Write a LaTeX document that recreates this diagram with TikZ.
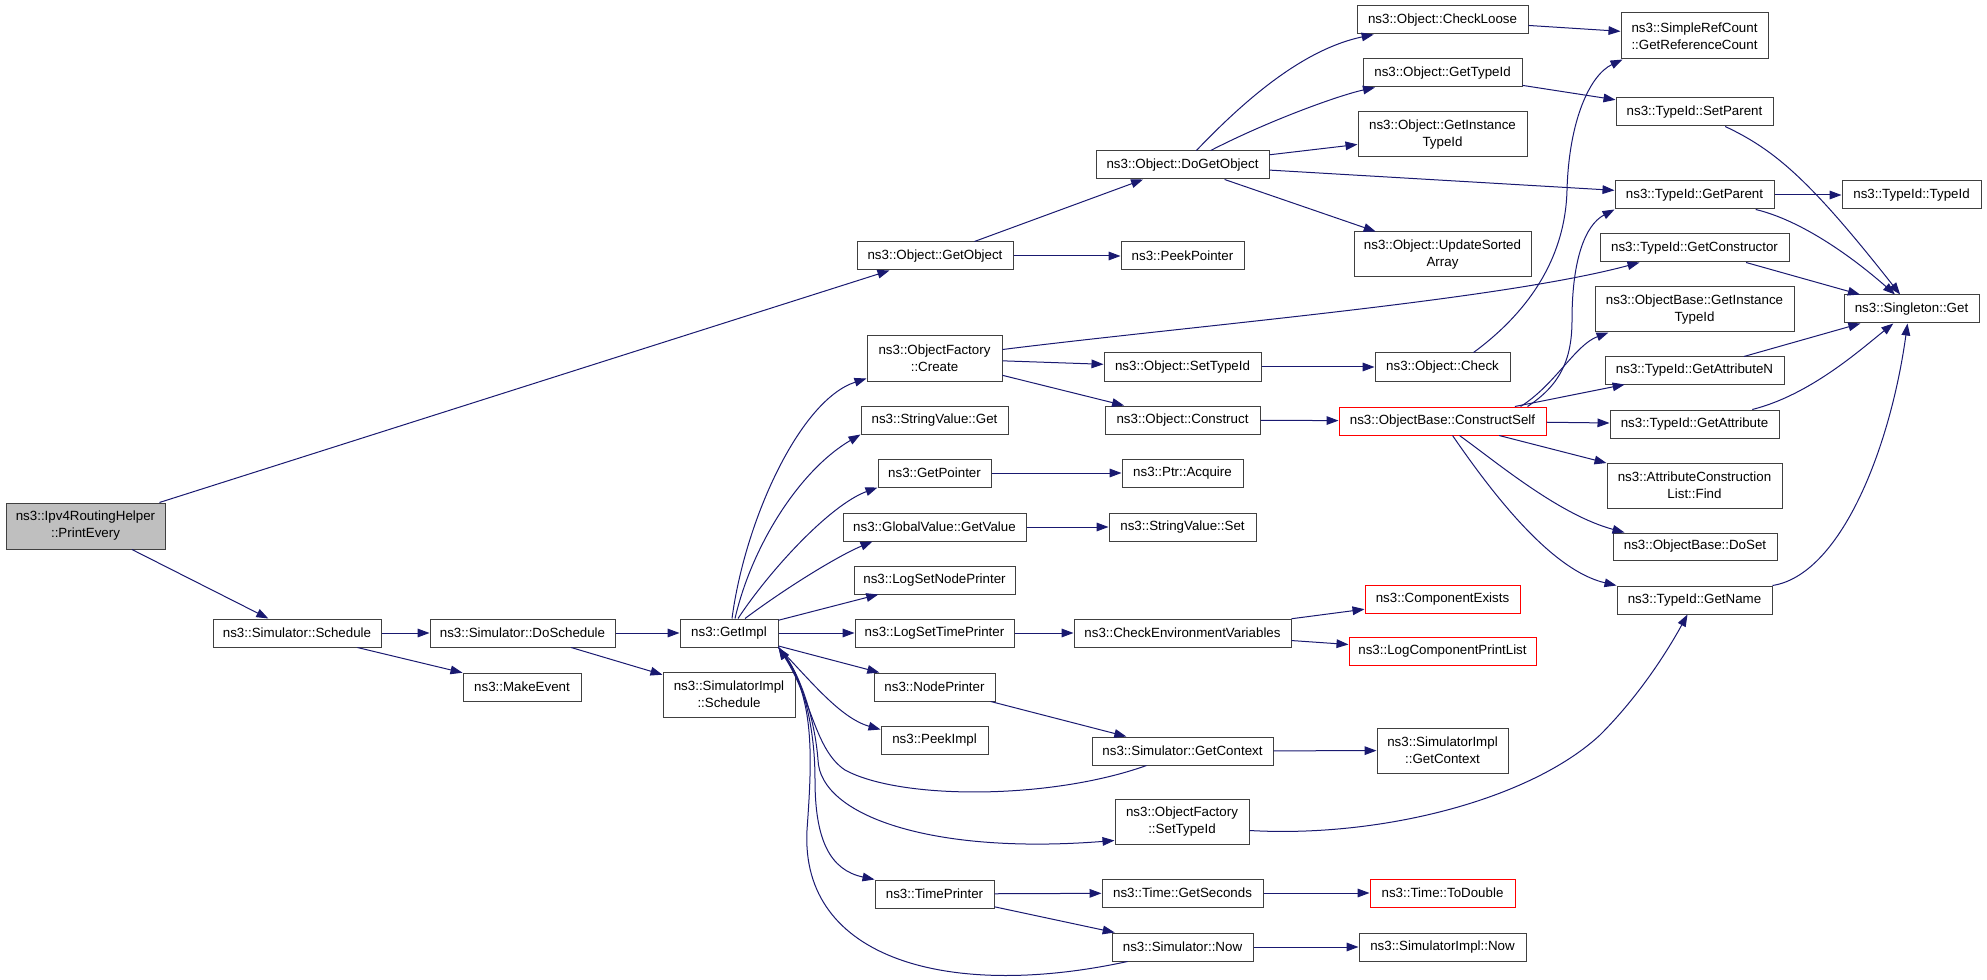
\documentclass[tikz,border=0pt]{standalone}
\usepackage{fontspec}
\setmainfont{Liberation Sans}
\usetikzlibrary{arrows.meta,calc}
\definecolor{edgeblue}{HTML}{191970}
\definecolor{boxgrey}{HTML}{404040}
\definecolor{rootfill}{HTML}{BFBFBF}
\definecolor{redbox}{HTML}{FF0000}
\tikzset{
  fn/.style={draw=boxgrey, line width=0.75pt, fill=white, inner sep=0pt, align=center,
    font=\fontsize{10}{12.75}\selectfont},
  rootnode/.style={fill=rootfill},
  rednode/.style={draw=redbox},
  edge/.style={draw=edgeblue, line width=0.75pt, -{Triangle[length=9pt,width=6.5pt]}},
}
\newcommand\fnode[7][]{\node[fn,#1,minimum width={(#5-#3)*0.75pt},minimum height={(#6-#4)*0.75pt}] (#2) at ({(#3+#5)/2},{(#4+#6)/2}) {#7};}
\begin{document}
\begin{tikzpicture}[x=0.75pt,y=-0.75pt]
\useasboundingbox (0,0) rectangle (1987,980);
% nodes
\fnode[rootnode]{pe}{6}{503}{165}{549}{ns3::Ipv4RoutingHelper\\::PrintEvery}
\fnode{sched}{213}{619}{381}{647}{ns3::Simulator::Schedule}
\fnode{dosched}{430}{619}{615}{647}{ns3::Simulator::DoSchedule}
\fnode{mkev}{463}{673}{581}{701}{ns3::MakeEvent}
\fnode{sisched}{663}{672}{795}{717}{ns3::SimulatorImpl\\::Schedule}
\fnode{getimpl}{680}{619}{778}{647}{ns3::GetImpl}
\fnode{getobj}{857}{242}{1013}{270}{ns3::Object::GetObject}
\fnode{peekptr}{1121}{242}{1244}{270}{ns3::PeekPointer}
\fnode{dogo}{1096}{151}{1269}{179}{ns3::Object::DoGetObject}
\fnode{chkloose}{1357}{6}{1528}{34}{ns3::Object::CheckLoose}
\fnode{ogettid}{1363}{59}{1522}{87}{ns3::Object::GetTypeId}
\fnode{ogetinst}{1358}{112}{1527}{157}{ns3::Object::GetInstance\\TypeId}
\fnode{upd}{1354}{232}{1531}{277}{ns3::Object::UpdateSorted\\Array}
\fnode{refcnt}{1621}{13}{1768}{59}{ns3::SimpleRefCount\\::GetReferenceCount}
\fnode{setpar}{1616}{98}{1773}{126}{ns3::TypeId::SetParent}
\fnode{getpar}{1615}{181}{1774}{209}{ns3::TypeId::GetParent}
\fnode{tidtid}{1842}{181}{1981}{209}{ns3::TypeId::TypeId}
\fnode{getctor}{1600}{234}{1789}{262}{ns3::TypeId::GetConstructor}
\fnode{obinst}{1595}{287}{1794}{332}{ns3::ObjectBase::GetInstance\\TypeId}
\fnode{single}{1844}{295}{1979}{323}{ns3::Singleton::Get}
\fnode{getattrn}{1605}{357}{1784}{384}{ns3::TypeId::GetAttributeN}
\fnode{getattr}{1610}{410}{1779}{438}{ns3::TypeId::GetAttribute}
\fnode{acfind}{1607}{463}{1782}{508}{ns3::AttributeConstruction\\List::Find}
\fnode{doset}{1613}{533}{1777}{560}{ns3::ObjectBase::DoSet}
\fnode{getname}{1617}{586}{1772}{614}{ns3::TypeId::GetName}
\fnode{create}{867}{336}{1002}{381}{ns3::ObjectFactory\\::Create}
\fnode{svget}{861}{406}{1008}{434}{ns3::StringValue::Get}
\fnode{getptr}{878}{459}{991}{487}{ns3::GetPointer}
\fnode{gvget}{843}{513}{1026}{541}{ns3::GlobalValue::GetValue}
\fnode{lsnp}{854}{566}{1015}{594}{ns3::LogSetNodePrinter}
\fnode{lstp}{855}{619}{1014}{647}{ns3::LogSetTimePrinter}
\fnode{nodepr}{874}{673}{995}{701}{ns3::NodePrinter}
\fnode{peekimpl}{881}{726}{988}{754}{ns3::PeekImpl}
\fnode{timepr}{875}{880}{994}{908}{ns3::TimePrinter}
\fnode{osettid}{1104}{353}{1261}{381}{ns3::Object::SetTypeId}
\fnode{check}{1375}{353}{1510}{381}{ns3::Object::Check}
\fnode{construct}{1105}{406}{1260}{434}{ns3::Object::Construct}
\fnode[rednode]{cself}{1339}{407}{1546}{435}{ns3::ObjectBase::ConstructSelf}
\fnode{acquire}{1122}{459}{1243}{487}{ns3::Ptr::Acquire}
\fnode{svset}{1109}{513}{1256}{541}{ns3::StringValue::Set}
\fnode{chkenv}{1074}{619}{1291}{647}{ns3::CheckEnvironmentVariables}
\fnode[rednode]{compex}{1365}{585}{1520}{613}{ns3::ComponentExists}
\fnode[rednode]{lcpl}{1349}{637}{1536}{665}{ns3::LogComponentPrintList}
\fnode{sgctx}{1092}{737}{1273}{765}{ns3::Simulator::GetContext}
\fnode{sigctx}{1377}{728}{1508}{773}{ns3::SimulatorImpl\\::GetContext}
\fnode{ofsettid}{1115}{799}{1249}{844}{ns3::ObjectFactory\\::SetTypeId}
\fnode{getsec}{1102}{879}{1263}{907}{ns3::Time::GetSeconds}
\fnode[rednode]{todbl}{1370}{879}{1515}{907}{ns3::Time::ToDouble}
\fnode{snow}{1112}{933}{1253}{961}{ns3::Simulator::Now}
\fnode{sinow}{1359}{933}{1526}{961}{ns3::SimulatorImpl::Now}
% edges
\draw[edge] (pe) -- (getobj);
\draw[edge] (pe) -- (sched);
\draw[edge] (sched) -- (dosched);
\draw[edge] (sched) -- (mkev);
\draw[edge] (dosched) -- (getimpl);
\draw[edge] (dosched) -- (sisched);
\draw[edge] (getobj) -- (dogo);
\draw[edge] (getobj) -- (peekptr);
\draw[edge] (dogo) .. controls (1240,105) and (1300,50) .. (chkloose);
\draw[edge] (dogo) .. controls (1270,120) and (1340,95) .. (ogettid);
\draw[edge] (dogo) -- (ogetinst);
\draw[edge] (dogo) -- (getpar);
\draw[edge] (dogo) -- (upd);
\draw[edge] (chkloose) -- (refcnt);
\draw[edge] (ogettid) -- (setpar);
\draw[edge] (setpar) .. controls (1775,150) and (1810,180) .. (single);
\draw[edge] (getpar) -- (tidtid);
\draw[edge] (getpar) .. controls (1800,220) and (1850,255) .. (single);
\draw[edge] (getctor) -- (single);
\draw[edge] (getattrn) -- (single);
\draw[edge] (getattr) .. controls (1810,395) and (1860,350) .. (single);
\draw[edge] (getname.north east) .. controls (1840,575) and (1890,450) .. ($(single.south)+(-4,0)$);
\draw[edge] ($(check.north east)+(-37,0)$) .. controls (1515,322) and (1565,270) .. (1567,190) .. controls (1569,120) and (1590,75) .. ($(refcnt.south west)+(2,0)$);
\draw[edge] ($(cself.north east)+(-19,0)$) .. controls (1560,385) and (1572,360) .. (1572,320) .. controls (1572,260) and (1585,225) .. (getpar.south west);
\draw[edge] ($(cself.north east)+(-26,0)$) .. controls (1555,385) and (1575,345) .. ($(obinst.south west)+(14,0)$);
\draw[edge] (cself) -- (getattrn);
\draw[edge] (cself) -- (getattr);
\draw[edge] (cself) -- (acfind);
\draw[edge] ($(cself.south)+(17,0)$) .. controls (1500,465) and (1560,515) .. ($(doset.north west)+(12,0)$);
\draw[edge] ($(cself.south)+(10,0)$) .. controls (1490,490) and (1550,570) .. (getname.north west);
\draw[edge] ($(ofsettid.east)+(0,9)$) .. controls (1380,838) and (1530,800) .. (1600,735) .. controls (1640,695) and (1668,650) .. ($(getname.south)+(-7,0)$);
\draw[edge] ($(create.east)+(0,-9)$) .. controls (1200,325) and (1500,300) .. ($(getctor.south west)+(40,0)$);
\draw[edge] (create) -- (osettid);
\draw[edge] (create) -- (construct);
\draw[edge] (osettid) -- (check);
\draw[edge] (construct) -- (cself);
% GetImpl fan
\draw[edge] ($(getimpl.north)+(3,0)$) .. controls (745,520) and (800,400) .. ($(create.south west)+(0,-3)$);
\draw[edge] ($(getimpl.north)+(6,0)$) .. controls (752,545) and (800,470) .. (svget.south west);
\draw[edge] ($(getimpl.north)+(9,0)$) .. controls (770,570) and (830,505) .. (getptr.south west);
\draw[edge] ($(getimpl.north)+(16,0)$) .. controls (790,585) and (840,555) .. ($(gvget.south west)+(30,0)$);
\draw[edge] (getimpl) -- (lsnp);
\draw[edge] (getimpl) -- (lstp);
\draw[edge] (getimpl) -- (nodepr);
\draw[edge] (getimpl.south east) .. controls (810,680) and (840,718) .. ($(peekimpl.north west)+(0,4)$);
\draw[edge] (getimpl.south east) .. controls (800,670) and (815,720) .. (818,760) .. controls (820,815) and (930,855) .. ($(ofsettid.south west)+(0,-4)$);
\draw[edge] (getimpl.south east) .. controls (800,670) and (815,720) .. (815,780) .. controls (815,840) and (830,870) .. (timepr.north west);
\draw[edge] ($(sgctx.south west)+(55,0)$) .. controls (1050,800) and (900,800) .. (845,770) .. controls (815,750) and (812,700) .. (getimpl.south east);
\draw[edge] ($(snow.south west)+(16,0)$) .. controls (950,1000) and (800,960) .. (807,830) .. controls (812,760) and (815,700) .. (getimpl.south east);
\draw[edge] (getptr) -- (acquire);
\draw[edge] (gvget) -- (svset);
\draw[edge] (lstp) -- (chkenv);
\draw[edge] (chkenv) -- (compex);
\draw[edge] (chkenv) -- (lcpl);
\draw[edge] (nodepr) -- (sgctx);
\draw[edge] (sgctx) -- (sigctx);
\draw[edge] (timepr) -- (getsec);
\draw[edge] (timepr) -- (snow);
\draw[edge] (getsec) -- (todbl);
\draw[edge] (snow) -- (sinow);
\end{tikzpicture}
\end{document}
